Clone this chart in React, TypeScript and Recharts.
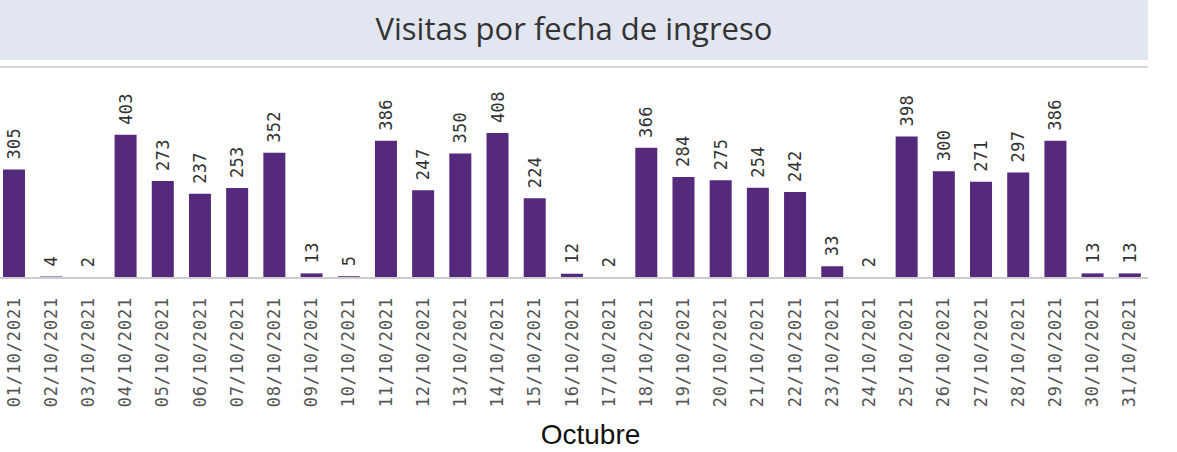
import React from 'react';
import { BarChart, Bar, XAxis, YAxis, LabelList } from 'recharts';

const fechas = [
  '01/10/2021', '02/10/2021', '03/10/2021', '04/10/2021', '05/10/2021', '06/10/2021', '07/10/2021', '08/10/2021',
  '09/10/2021', '10/10/2021', '11/10/2021', '12/10/2021', '13/10/2021', '14/10/2021', '15/10/2021', '16/10/2021',
  '17/10/2021', '18/10/2021', '19/10/2021', '20/10/2021', '21/10/2021', '22/10/2021', '23/10/2021', '24/10/2021',
  '25/10/2021', '26/10/2021', '27/10/2021', '28/10/2021', '29/10/2021', '30/10/2021', '31/10/2021',
];

const visitas = [
  305, 4, 2, 403, 273, 237, 253, 352, 13, 5, 386, 247, 350, 408, 224, 12,
  2, 366, 284, 275, 254, 242, 33, 2, 398, 300, 271, 297, 386, 13, 13,
];

const BAR_COLOR = '#55297c';

const renderTick = ({ x, y, payload }: any) => (
  <text
    x={x}
    y={y + 11}
    transform={`rotate(-90, ${x}, ${y + 11})`}
    textAnchor="end"
    dominantBaseline="central"
    fill="#555"
    fontSize={17}
    letterSpacing={0.8}
    fontFamily="'DejaVu Sans Mono', monospace"
  >
    {payload.value}
  </text>
);

const renderValue = ({ x, y, width, value }: any) => {
  const cx = x + width / 2;
  const ty = y - 10;
  return (
    <text
      x={cx}
      y={ty}
      transform={`rotate(-90, ${cx}, ${ty})`}
      textAnchor="start"
      dominantBaseline="central"
      fill="#333"
      fontSize={17}
      letterSpacing={0.3}
      fontFamily="'DejaVu Sans Mono', monospace"
    >
      {value}
    </text>
  );
};

const renderAxisLabel = ({ viewBox }: any) => (
  <text
    x={viewBox.x + viewBox.width / 2 + 19}
    y={viewBox.y + viewBox.height - 8}
    textAnchor="middle"
    fill="#111"
    fontSize={28}
    fontFamily="'Liberation Sans', Arial, sans-serif"
  >
    Octubre
  </text>
);

export default function App() {
  const data = fechas.map((fecha, i) => ({ fecha, visitas: visitas[i] }));

  return (
    <div style={{ position: 'fixed', left: 0, top: 0, width: 1177, height: 452, background: '#fff', overflow: 'hidden' }}>
      <div
        style={{
          position: 'absolute', left: 0, top: 0, width: 1148, height: 60,
          background: '#e1e6f0', color: '#333', textAlign: 'center',
          fontFamily: "'Open Sans', sans-serif", fontSize: 31, lineHeight: '56px',
        }}
      >
        Visitas por fecha de ingreso
      </div>
      <div style={{ position: 'absolute', left: 0, top: 66, width: 1148, height: 2, background: '#d6d6d6' }} />
      <div style={{ position: 'absolute', left: -5, top: 68 }}>
        <BarChart width={1153} height={384} data={data} margin={{ top: 50, right: 0, left: 0, bottom: 0 }} barCategoryGap={0}>
          <YAxis hide domain={[0, 450]} />
          <XAxis
            dataKey="fecha"
            interval={0}
            height={174}
            tick={renderTick}
            tickLine={false}
            axisLine={{ stroke: '#cccccc', strokeWidth: 2 }}
            label={renderAxisLabel}
          />
          <Bar dataKey="visitas" fill={BAR_COLOR} barSize={22} isAnimationActive={false}>
            <LabelList dataKey="visitas" content={renderValue} />
          </Bar>
        </BarChart>
      </div>
    </div>
  );
}
